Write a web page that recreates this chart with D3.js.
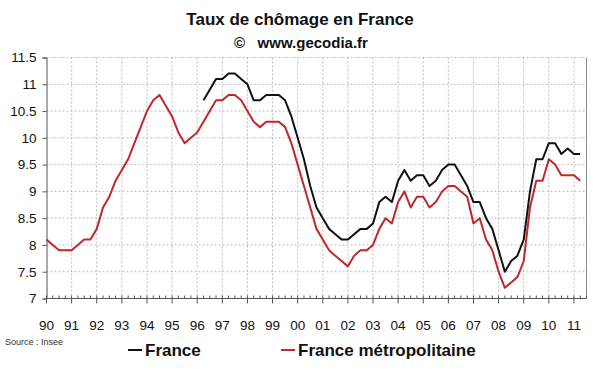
<!DOCTYPE html>
<html>
<head>
<meta charset="utf-8">
<script src="https://cdn.jsdelivr.net/npm/d3@7"></script>
<style>
  body { margin: 0; background: #fff; }
  svg text { font-family: "Liberation Sans", Arial, sans-serif; }
</style>
</head>
<body>
<svg width="600" height="372"></svg>
<script>
// quarterly, 1990 Q1 .. 2011 Q2
const yearLabels = ['90','91','92','93','94','95','96','97','98','99','00','01','02','03','04','05','06','07','08','09','10','11']
const yTicks = [7, 7.5, 8, 8.5, 9, 9.5, 10, 10.5, 11, 11.5]

const metro = [8.1, 8.0, 7.9, 7.9, 7.9, 8.0, 8.1, 8.1, 8.3, 8.7, 8.9, 9.2, 9.4, 9.6, 9.9, 10.2,
  10.5, 10.7, 10.8, 10.6, 10.4, 10.1, 9.9, 10.0, 10.1, 10.3, 10.5, 10.7, 10.7, 10.8, 10.8, 10.7,
  10.5, 10.3, 10.2, 10.3, 10.3, 10.3, 10.2, 9.9, 9.5, 9.1, 8.7, 8.3, 8.1, 7.9, 7.8, 7.7,
  7.6, 7.8, 7.9, 7.9, 8.0, 8.3, 8.5, 8.4, 8.8, 9.0, 8.7, 8.9, 8.9, 8.7, 8.8, 9.0,
  9.1, 9.1, 9.0, 8.9, 8.4, 8.5, 8.1, 7.9, 7.5, 7.2, 7.3, 7.4, 7.7, 8.7, 9.2, 9.2,
  9.6, 9.5, 9.3, 9.3, 9.3, 9.2]

const france = [null, null, null, null, null, null, null, null, null, null, null, null, null, null, null, null,
  null, null, null, null, null, null, null, null, null, 10.7, 10.9, 11.1, 11.1, 11.2, 11.2, 11.1,
  11.0, 10.7, 10.7, 10.8, 10.8, 10.8, 10.7, 10.4, 10.0, 9.6, 9.1, 8.7, 8.5, 8.3, 8.2, 8.1,
  8.1, 8.2, 8.3, 8.3, 8.4, 8.8, 8.9, 8.8, 9.2, 9.4, 9.2, 9.3, 9.3, 9.1, 9.2, 9.4,
  9.5, 9.5, 9.3, 9.1, 8.8, 8.8, 8.5, 8.3, 7.9, 7.5, 7.7, 7.8, 8.1, 9.0, 9.6, 9.6,
  9.9, 9.9, 9.7, 9.8, 9.7, 9.7]

const svg = d3.select('svg')
const plotL = 46.5, plotR = 586.5, plotT = 57.5, plotB = 298.5
const nCat = 86

const x = d3.scaleLinear().domain([0, nCat]).range([plotL, plotR])
const y = d3.scaleLinear().domain([7, 11.5]).range([plotB, plotT])

// titles
svg.append('text').attr('x', 300).attr('y', 25).attr('text-anchor', 'middle')
  .attr('font-size', 17).attr('font-weight', 'bold').attr('fill', '#111')
  .text('Taux de chômage en France')
svg.append('text').attr('x', 301).attr('y', 48).attr('text-anchor', 'middle')
  .attr('font-size', 15).attr('font-weight', 'bold').attr('fill', '#111')
  .attr('xml:space', 'preserve')
  .text('©   www.gecodia.fr')

// grid
const majors = d3.range(0, nCat + 1, 4)
svg.append('g').selectAll('line').data(majors.slice(1))
  .join('line')
  .attr('x1', d => x(d)).attr('x2', d => x(d))
  .attr('y1', plotT).attr('y2', plotB)
  .attr('stroke', '#bdbdbd').attr('stroke-dasharray', '2,2').attr('stroke-width', 1)
svg.append('g').selectAll('line').data(yTicks.slice(1))
  .join('line')
  .attr('x1', plotL).attr('x2', plotR)
  .attr('y1', d => y(d)).attr('y2', d => y(d))
  .attr('stroke', '#bdbdbd').attr('stroke-dasharray', '2,2').attr('stroke-width', 1)

// right border
svg.append('line').attr('x1', plotR).attr('x2', plotR).attr('y1', plotT).attr('y2', plotB)
  .attr('stroke', '#8c8c8c')

// y axis
const yAxis = svg.append('g').attr('transform', `translate(${plotL},0)`)
  .call(d3.axisLeft(y).tickValues(yTicks).tickSize(4).tickPadding(6)
    .tickFormat(d => String(d)))
yAxis.select('.domain').attr('stroke', '#555')
yAxis.selectAll('.tick line').attr('stroke', '#555')
yAxis.selectAll('.tick text').attr('font-size', 13.5).attr('fill', '#111')
  .attr('font-family', '"Liberation Sans", Arial, sans-serif')

// x axis: minor ticks every quarter, major every year
const xg = svg.append('g')
xg.append('line').attr('x1', plotL).attr('x2', plotR).attr('y1', plotB).attr('y2', plotB)
  .attr('stroke', '#555')
xg.selectAll('line.minor').data(d3.range(0, nCat + 1).filter(d => d % 4 !== 0))
  .join('line').attr('class', 'minor')
  .attr('x1', d => x(d)).attr('x2', d => x(d))
  .attr('y1', plotB - 3).attr('y2', plotB)
  .attr('stroke', '#555')
xg.selectAll('line.major').data(majors)
  .join('line').attr('class', 'major')
  .attr('x1', d => x(d)).attr('x2', d => x(d))
  .attr('y1', plotB - 3).attr('y2', plotB + 5)
  .attr('stroke', '#555')
xg.selectAll('text').data(yearLabels)
  .join('text')
  .attr('x', (d, i) => x(i * 4)).attr('y', 330)
  .attr('text-anchor', 'middle').attr('font-size', 13.5).attr('fill', '#111')
  .text(d => d)

// series
const line = d3.line()
  .defined(d => d != null)
  .x((d, i) => x(i))
  .y(d => y(d))

svg.append('path').datum(metro)
  .attr('d', line).attr('fill', 'none')
  .attr('stroke', '#c0272d').attr('stroke-width', 2).attr('stroke-linejoin', 'round')
svg.append('path').datum(france)
  .attr('d', line).attr('fill', 'none')
  .attr('stroke', '#111').attr('stroke-width', 2).attr('stroke-linejoin', 'round')

// source + legend
svg.append('text').attr('x', 5).attr('y', 345).attr('font-size', 9).attr('fill', '#333')
  .attr('font-family', '"Liberation Sans Narrow", "Liberation Sans", Arial, sans-serif')
  .text('Source : Insee')

const legend = [
  { name: 'France', color: '#111', x: 128 },
  { name: 'France métropolitaine', color: '#c0272d', x: 281 }
]
const lg = svg.append('g').selectAll('g').data(legend).join('g')
  .attr('transform', d => `translate(${d.x},350)`)
lg.append('line').attr('x1', 0).attr('x2', 14).attr('y1', 0).attr('y2', 0)
  .attr('stroke', d => d.color).attr('stroke-width', 2)
lg.append('text').attr('x', 17).attr('y', 6)
  .attr('font-size', 17).attr('font-weight', 'bold').attr('fill', '#111')
  .text(d => d.name)
</script>
</body>
</html>
